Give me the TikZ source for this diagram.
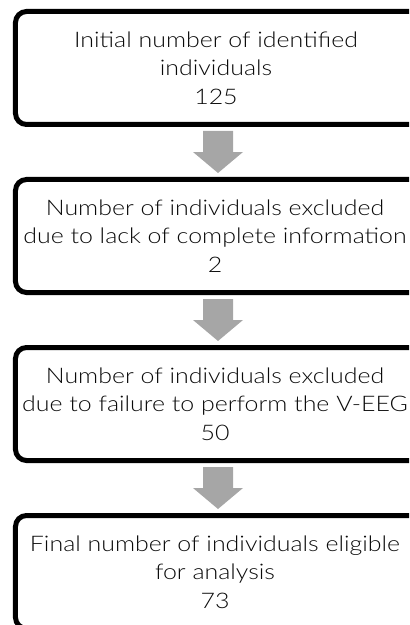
\documentclass[tikz,border=0pt]{standalone}
\usepackage{fontspec}
\setmainfont{Lato}[UprightFont=* Light, FakeStretch=1.16]
\usetikzlibrary{calc}
\definecolor{arrowgray}{RGB}{166,166,166}
\definecolor{txt}{RGB}{10,10,10}
\tikzset{
  flowbox/.style={draw=black, line width=5bp, rounded corners=11bp,
    minimum width=425bp, minimum height=113bp, inner sep=0pt},
  boxtext/.style={align=center, text=txt, inner sep=0pt,
    font=\fontsize{21.5bp}{28.5bp}\selectfont},
  blockarrow/.style={fill=arrowgray, draw=none}
}
\begin{document}
\begin{tikzpicture}[x=1bp,y=-1bp]
\useasboundingbox (0,0) rectangle (409,625);
\begin{scope}
\clip (0,0) rectangle (409,625);
\node[flowbox] (b1) at (228,68) {};
\node[flowbox] (b2) at (228,236) {};
\node[flowbox] (b3) at (228,404) {};
\node[flowbox] (b4) at (228,572) {};
\node[boxtext] (t1) at (216,68) {Initial number of identified\\individuals\\125};
\node[boxtext] (t2) at (215,236) {Number of individuals excluded\\due to lack of complete information\\2};
\node[boxtext] (t3) at (215,404) {Number of individuals excluded\\due to failure to perform the V-EEG\\50};
\node[boxtext] (t4) at (215,572) {Final number of individuals eligible\\for analysis\\73};
\foreach \a/\b in {b1/b2,b2/b3,b3/b4}{
  \fill[blockarrow] ($(\a.south)+(-25,4)$) -- ($(\a.south)+(5,4)$) -- ($(\a.south)+(5,25)$)
    -- ($(\a.south)+(15,25)$) -- ($(\b.north)+(-10,-4)$) -- ($(\a.south)+(-35,25)$)
    -- ($(\a.south)+(-25,25)$) -- cycle;
}
\end{scope}
\end{tikzpicture}
\end{document}
